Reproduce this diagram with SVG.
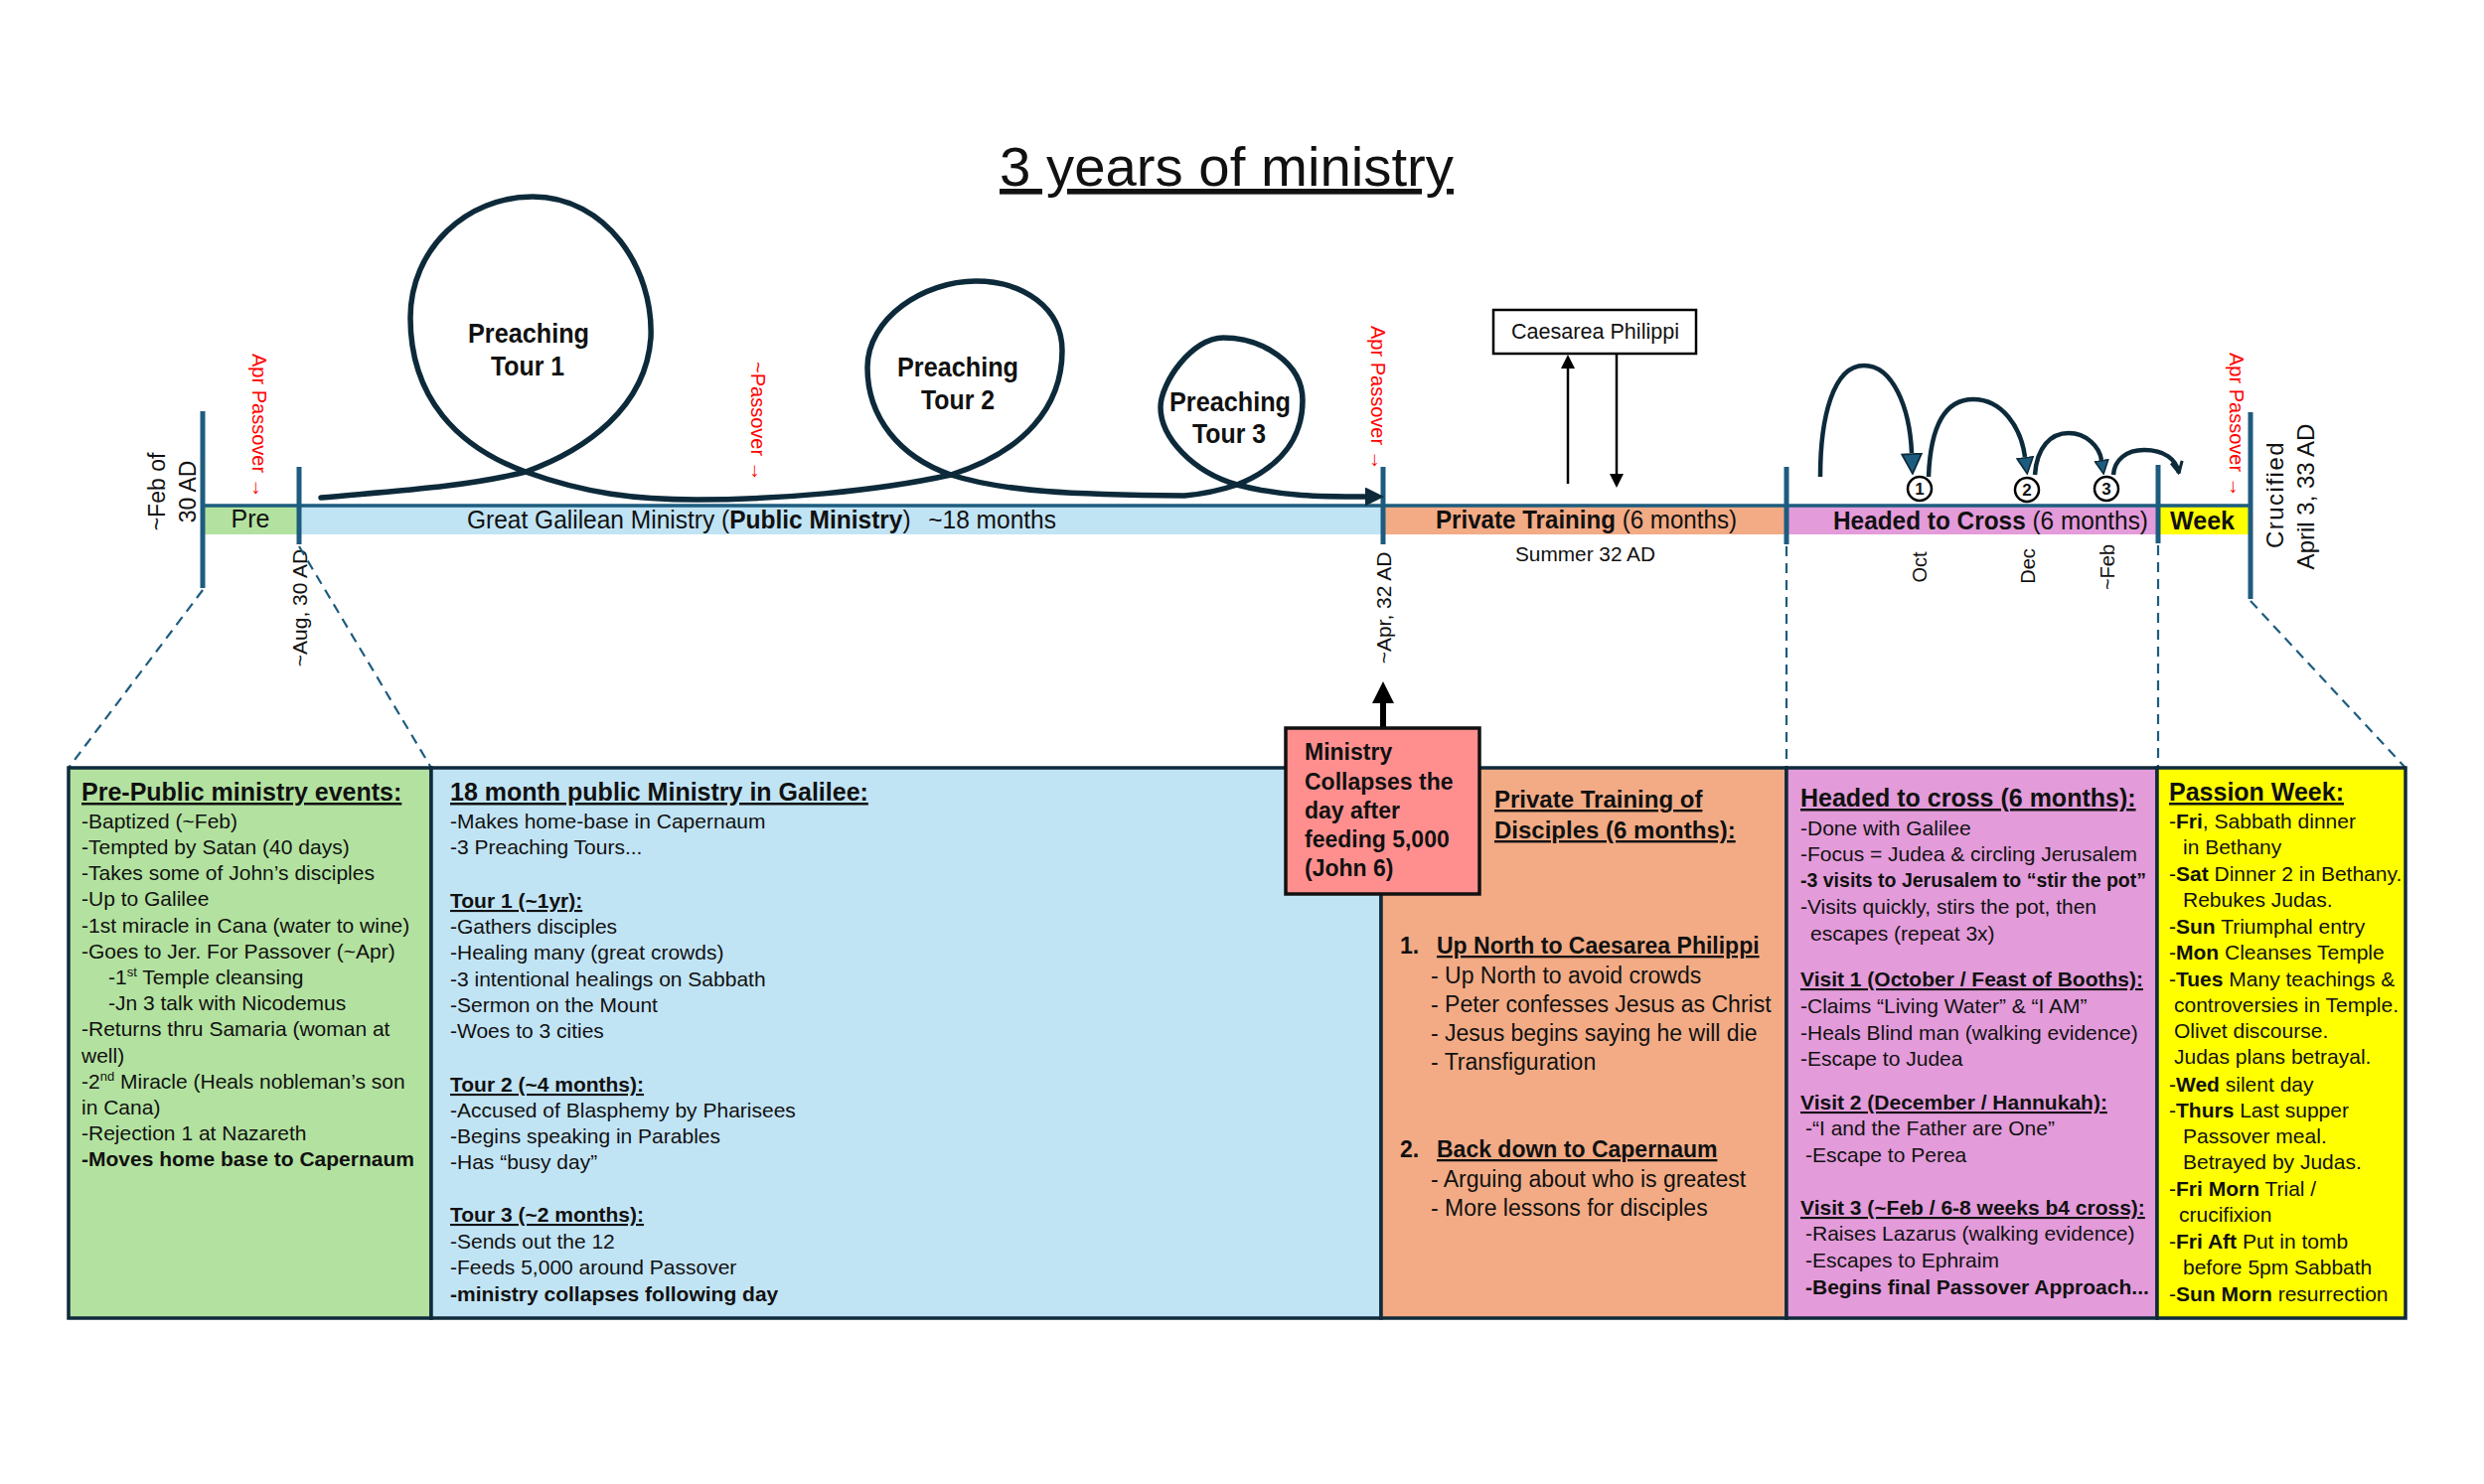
<svg xmlns="http://www.w3.org/2000/svg" width="2500" height="1494" viewBox="0 0 2500 1494">
<style>
text{font-family:"Liberation Sans",Arial,sans-serif;fill:#111}
.bd{font-size:21px}
.or{font-size:23px}
.b{font-weight:bold}
.hu{font-weight:bold;text-decoration:underline}
.hd{font-size:25px;font-weight:bold;text-decoration:underline}
.box{stroke:#0f2a3b;stroke-width:3.5}
.tl{stroke:#1d5c7e;stroke-width:5;fill:none}
.dash{stroke:#1d5c7e;stroke-width:2.2;stroke-dasharray:10 7;fill:none}
.red{fill:#ff0000;font-size:20px}
.rot{font-size:21px}
.loop{stroke:#0d2a3a;stroke-width:5.5;fill:none;stroke-linecap:round}
.arc{stroke:#0d2a3a;stroke-width:4.5;fill:none}
.lbl{font-size:25px}
.pt{font-size:28px;font-weight:bold;text-anchor:middle}
</style>
<defs>
<marker id="mBlk" viewBox="0 0 10 10" refX="0" refY="5" markerUnits="userSpaceOnUse" markerWidth="14" markerHeight="14" orient="auto"><path d="M0,0L10,5L0,10z" fill="#000"/></marker>
<marker id="mLoop" viewBox="0 0 10 10" refX="0" refY="5" markerUnits="userSpaceOnUse" markerWidth="19" markerHeight="19" orient="auto"><path d="M0,0L10,5L0,10z" fill="#0d2a3a"/></marker>
<marker id="mBig" viewBox="0 0 10 10" refX="0" refY="5" markerUnits="userSpaceOnUse" markerWidth="22" markerHeight="22" orient="auto"><path d="M0,0L10,5L0,10z" fill="#000"/></marker>
<marker id="mT1" viewBox="0 0 10 10" refX="0" refY="5" markerUnits="userSpaceOnUse" markerWidth="22" markerHeight="22" orient="auto"><path d="M0.5,0.5L9.5,5L0.5,9.5z" fill="#1d5c7e" stroke="#0d2a3a" stroke-width="0.8"/></marker>
<marker id="mT2" viewBox="0 0 10 10" refX="0" refY="5" markerUnits="userSpaceOnUse" markerWidth="18" markerHeight="18" orient="auto"><path d="M0.5,0.5L9.5,5L0.5,9.5z" fill="#1d5c7e" stroke="#0d2a3a" stroke-width="0.9"/></marker>
<marker id="mT3" viewBox="0 0 10 10" refX="0" refY="5" markerUnits="userSpaceOnUse" markerWidth="15" markerHeight="15" orient="auto"><path d="M0.5,0.5L9.5,5L0.5,9.5z" fill="#1d5c7e" stroke="#0d2a3a" stroke-width="1"/></marker>
<marker id="mOpen" viewBox="0 0 10 10" refX="9" refY="5" markerUnits="userSpaceOnUse" markerWidth="14" markerHeight="14" orient="auto"><path d="M1,1L9,5L1,9" fill="none" stroke="#0d2a3a" stroke-width="2.2"/></marker>
</defs>
<rect width="2500" height="1494" fill="#fff"/>

<g id="title">
<text x="1006" y="187" font-size="56" textLength="457" lengthAdjust="spacingAndGlyphs" text-decoration="underline">3 years of ministry</text>
</g>

<g id="timeline">
<rect x="204" y="508" width="97" height="30" fill="#b3e2a0"/>
<rect x="301" y="508" width="1091" height="30" fill="#c1e4f5"/>
<rect x="1392" y="508" width="406" height="30" fill="#f2ab85"/>
<rect x="1798" y="508" width="374" height="30" fill="#e39bda"/>
<rect x="2172" y="508" width="93" height="30" fill="#ffff00"/>
<line x1="204" y1="509" x2="2265" y2="509" stroke="#1d5c7e" stroke-width="3.5"/>
<line class="tl" x1="204" y1="414" x2="204" y2="592"/>
<line class="tl" x1="301" y1="470" x2="301" y2="548"/>
<line class="tl" x1="1392" y1="470" x2="1392" y2="548"/>
<line class="tl" x1="1798" y1="470" x2="1798" y2="548"/>
<line class="tl" x1="2172" y1="468" x2="2172" y2="547"/>
<line class="tl" x1="2265" y1="415" x2="2265" y2="603"/>
<text x="252" y="531" class="lbl" text-anchor="middle">Pre</text>
<text x="470" y="532" class="lbl" textLength="593" lengthAdjust="spacingAndGlyphs">Great Galilean Ministry (<tspan class="b">Public Ministry</tspan>)<tspan dx="18">~18 months</tspan></text>
<text x="1445" y="532" class="lbl" textLength="303" lengthAdjust="spacingAndGlyphs"><tspan class="b">Private Training</tspan> (6 months)</text>
<text x="1845" y="533" class="lbl" textLength="317" lengthAdjust="spacingAndGlyphs"><tspan class="b">Headed to Cross</tspan> (6 months)</text>
<text x="2184" y="533" class="lbl b" textLength="65" lengthAdjust="spacingAndGlyphs">Week</text>
<text x="1525" y="565" font-size="21" textLength="141" lengthAdjust="spacingAndGlyphs">Summer 32 AD</text>
<text transform="translate(166,495) rotate(-90)" font-size="23" text-anchor="middle">~Feb of</text>
<text transform="translate(197,495) rotate(-90)" font-size="23" text-anchor="middle">30 AD</text>
<text transform="translate(309,612) rotate(-90)" class="rot" text-anchor="middle">~Aug, 30 AD</text>
<text transform="translate(1400,612) rotate(-90)" class="rot" text-anchor="middle">~Apr, 32 AD</text>
<text transform="translate(1939,571) rotate(-90)" font-size="20" text-anchor="middle">Oct</text>
<text transform="translate(2048,570) rotate(-90)" font-size="20" text-anchor="middle">Dec</text>
<text transform="translate(2128,571) rotate(-90)" font-size="20" text-anchor="middle">~Feb</text>
<text transform="translate(2298,498) rotate(-90)" font-size="24" text-anchor="middle" letter-spacing="1.5">Crucified</text>
<text transform="translate(2329,500) rotate(-90)" font-size="24" text-anchor="middle">April 3, 33 AD</text>
<text transform="translate(254,356) rotate(90)" class="red">Apr Passover →</text>
<text transform="translate(756,364) rotate(90)" class="red">~Passover →</text>
<text transform="translate(1380,328) rotate(90)" class="red">Apr Passover →</text>
<text transform="translate(2244,355) rotate(90)" class="red">Apr Passover →</text>
</g>

<g id="preaching-tours">
<text x="532" y="345" class="pt" textLength="122" lengthAdjust="spacingAndGlyphs">Preaching</text>
<text x="531" y="378" class="pt" textLength="74" lengthAdjust="spacingAndGlyphs">Tour 1</text>
<text x="964" y="379" class="pt" textLength="122" lengthAdjust="spacingAndGlyphs">Preaching</text>
<text x="964" y="412" class="pt" textLength="74" lengthAdjust="spacingAndGlyphs">Tour 2</text>
<text x="1238" y="414" class="pt" textLength="122" lengthAdjust="spacingAndGlyphs">Preaching</text>
<text x="1237" y="446" class="pt" textLength="74" lengthAdjust="spacingAndGlyphs">Tour 3</text>
</g>

<g id="caesarea-philippi">
<rect x="1503" y="312" width="204" height="44" fill="#fff" stroke="#000" stroke-width="2.5"/>
<text x="1521" y="341" font-size="22" textLength="169" lengthAdjust="spacingAndGlyphs">Caesarea Philippi</text>
</g>

<g id="visit-markers">
<circle cx="1932" cy="492" r="12" fill="#fff" stroke="#000" stroke-width="2.5"/>
<text x="1932" y="498" font-size="17" class="b" text-anchor="middle">1</text>
<circle cx="2040" cy="493" r="12" fill="#fff" stroke="#000" stroke-width="2.5"/>
<text x="2040" y="499" font-size="17" class="b" text-anchor="middle">2</text>
<circle cx="2120" cy="492" r="12" fill="#fff" stroke="#000" stroke-width="2.5"/>
<text x="2120" y="498" font-size="17" class="b" text-anchor="middle">3</text>
</g>

<g id="connectors">
<path class="loop" marker-end="url(#mLoop)" d="M323 501 C400 494,470 490,529 475 C590 453,650 410,655 340 C658 270,610 198,536 198 C470 198,413 250,413 320 C413 400,460 450,529 475 C590 497,640 503,701 503 C780 503,880 495,957 478 C1030 455,1069 410,1069 353 C1069 310,1030 283,982 283 C930 283,873 320,873 370 C873 420,905 460,957 478 C1010 495,1080 498,1192 499 C1215 497,1230 493,1245 488 C1290 470,1311 440,1311 403 C1311 365,1270 340,1231 340 C1200 340,1168 385,1168 410 C1168 440,1200 475,1245 488 C1290 500,1330 500,1374 500"/>
<line x1="1578" y1="487" x2="1578" y2="371" stroke="#000" stroke-width="2.5" marker-end="url(#mBlk)"/>
<line x1="1627" y1="357" x2="1627" y2="477" stroke="#000" stroke-width="2.5" marker-end="url(#mBlk)"/>
<path class="arc" marker-end="url(#mT1)" d="M1832 480 C1832 420,1845 368,1876 368 C1905 368,1922 410,1924 456"/>
<path class="arc" marker-end="url(#mT2)" d="M1941 480 C1943 425,1960 402,1986 402 C2015 402,2034 430,2038 460"/>
<path class="arc" marker-end="url(#mT3)" d="M2048 478 C2050 450,2064 436,2082 436 C2100 436,2113 450,2115 463"/>
<path class="arc" marker-end="url(#mOpen)" d="M2127 478 C2128 463,2140 453,2158 453 C2178 453,2190 462,2193 476"/>
<line x1="1392" y1="733" x2="1392" y2="708" stroke="#000" stroke-width="6" marker-end="url(#mBig)"/>
<line class="dash" x1="204" y1="594" x2="69" y2="773"/>
<line class="dash" x1="301" y1="550" x2="434" y2="773"/>
<line class="dash" x1="1798" y1="550" x2="1798" y2="773"/>
<line class="dash" x1="2172" y1="549" x2="2172" y2="773"/>
<line class="dash" x1="2265" y1="605" x2="2421" y2="773"/>
</g>

<g id="pre-public-box">
<rect class="box" x="69" y="773" width="365" height="554" fill="#b3e2a0"/>
<text x="82" y="806" class="hd">Pre-Public ministry events:</text>
<g class="bd">
<text x="82" y="834">-Baptized (~Feb)</text>
<text x="82" y="860">-Tempted by Satan (40 days)</text>
<text x="82" y="886">-Takes some of John’s disciples</text>
<text x="82" y="912">-Up to Galilee</text>
<text x="82" y="939">-1st miracle in Cana (water to wine)</text>
<text x="82" y="965">-Goes to Jer. For Passover (~Apr)</text>
<text x="109" y="991">-1<tspan font-size="13" dy="-8">st</tspan><tspan dy="8"> Temple cleansing</tspan></text>
<text x="109" y="1017">-Jn 3 talk with Nicodemus</text>
<text x="82" y="1043">-Returns thru Samaria (woman at</text>
<text x="82" y="1070">well)</text>
<text x="82" y="1096">-2<tspan font-size="13" dy="-8">nd</tspan><tspan dy="8"> Miracle (Heals nobleman’s son</tspan></text>
<text x="82" y="1122">in Cana)</text>
<text x="82" y="1148">-Rejection 1 at Nazareth</text>
<text x="82" y="1174" class="b">-Moves home base to Capernaum</text>
</g>
</g>

<g id="galilee-box">
<rect class="box" x="434" y="773" width="956" height="554" fill="#c1e4f5"/>
<text x="453" y="806" class="hd">18 month public Ministry in Galilee:</text>
<g class="bd">
<text x="453" y="834">-Makes home-base in Capernaum</text>
<text x="453" y="860">-3 Preaching Tours...</text>
<text x="453" y="914" class="hu">Tour 1 (~1yr):</text>
<text x="453" y="940">-Gathers disciples</text>
<text x="453" y="966">-Healing many (great crowds)</text>
<text x="453" y="993">-3 intentional healings on Sabbath</text>
<text x="453" y="1019">-Sermon on the Mount</text>
<text x="453" y="1045">-Woes to 3 cities</text>
<text x="453" y="1099" class="hu">Tour 2 (~4 months):</text>
<text x="453" y="1125">-Accused of Blasphemy by Pharisees</text>
<text x="453" y="1151">-Begins speaking in Parables</text>
<text x="453" y="1177">-Has “busy day”</text>
<text x="453" y="1230" class="hu">Tour 3 (~2 months):</text>
<text x="453" y="1257">-Sends out the 12</text>
<text x="453" y="1283">-Feeds 5,000 around Passover</text>
<text x="453" y="1310" class="b">-ministry collapses following day</text>
</g>
</g>

<g id="private-training-box">
<rect class="box" x="1390" y="773" width="408" height="554" fill="#f2ab85"/>
<text x="1504" y="813" class="hu" font-size="24">Private Training of</text>
<text x="1504" y="844" class="hu" font-size="24">Disciples (6 months):</text>
<g class="or">
<text x="1409" y="960" class="b">1.</text>
<text x="1446" y="960" class="hu">Up North to Caesarea Philippi</text>
<text x="1440" y="990">- Up North to avoid crowds</text>
<text x="1440" y="1019">- Peter confesses Jesus as Christ</text>
<text x="1440" y="1048">- Jesus begins saying he will die</text>
<text x="1440" y="1077">- Transfiguration</text>
<text x="1409" y="1165" class="b">2.</text>
<text x="1446" y="1165" class="hu">Back down to Capernaum</text>
<text x="1440" y="1195">- Arguing about who is greatest</text>
<text x="1440" y="1224">- More lessons for disciples</text>
</g>
</g>

<g id="collapse-box">
<rect x="1294" y="733" width="195" height="167" fill="#ff8f8f" stroke="#111" stroke-width="3.5"/>
<g font-size="23" class="b">
<text x="1313" y="765">Ministry</text>
<text x="1313" y="795">Collapses the</text>
<text x="1313" y="824">day after</text>
<text x="1313" y="853">feeding 5,000</text>
<text x="1313" y="882">(John 6)</text>
</g>
</g>

<g id="headed-to-cross-box">
<rect class="box" x="1798" y="773" width="373" height="554" fill="#e39bda"/>
<text x="1812" y="812" class="hd">Headed to cross (6 months):</text>
<g class="bd">
<text x="1812" y="841">-Done with Galilee</text>
<text x="1812" y="867">-Focus = Judea &amp; circling Jerusalem</text>
<text x="1812" y="893" class="b" textLength="348" lengthAdjust="spacingAndGlyphs">-3 visits to Jerusalem to “stir the pot”</text>
<text x="1812" y="920">-Visits quickly, stirs the pot, then</text>
<text x="1822" y="947">escapes (repeat 3x)</text>
<text x="1812" y="993" class="hu">Visit 1 (October / Feast of Booths):</text>
<text x="1812" y="1020">-Claims “Living Water” &amp; “I AM”</text>
<text x="1812" y="1047">-Heals Blind man (walking evidence)</text>
<text x="1812" y="1073">-Escape to Judea</text>
<text x="1812" y="1117" class="hu">Visit 2 (December / Hannukah):</text>
<text x="1817" y="1143">-“I and the Father are One”</text>
<text x="1817" y="1170">-Escape to Perea</text>
<text x="1812" y="1223" class="hu">Visit 3 (~Feb / 6-8 weeks b4 cross):</text>
<text x="1817" y="1249">-Raises Lazarus (walking evidence)</text>
<text x="1817" y="1276">-Escapes to Ephraim</text>
<text x="1817" y="1303" class="b">-Begins final Passover Approach...</text>
</g>
</g>

<g id="passion-week-box">
<rect class="box" x="2171" y="773" width="250" height="554" fill="#ffff00"/>
<text x="2183" y="806" class="hd">Passion Week:</text>
<g class="bd">
<text x="2183" y="834">-<tspan class="b">Fri</tspan>, Sabbath dinner</text>
<text x="2197" y="860">in Bethany</text>
<text x="2183" y="887">-<tspan class="b">Sat</tspan> Dinner 2 in Bethany.</text>
<text x="2197" y="913">Rebukes Judas.</text>
<text x="2183" y="940">-<tspan class="b">Sun</tspan> Triumphal entry</text>
<text x="2183" y="966">-<tspan class="b">Mon</tspan> Cleanses Temple</text>
<text x="2183" y="993">-<tspan class="b">Tues</tspan> Many teachings &amp;</text>
<text x="2188" y="1019">controversies in Temple.</text>
<text x="2188" y="1045">Olivet discourse.</text>
<text x="2188" y="1071">Judas plans betrayal.</text>
<text x="2183" y="1099">-<tspan class="b">Wed</tspan> silent day</text>
<text x="2183" y="1125">-<tspan class="b">Thurs</tspan> Last supper</text>
<text x="2197" y="1151">Passover meal.</text>
<text x="2197" y="1177">Betrayed by Judas.</text>
<text x="2183" y="1204">-<tspan class="b">Fri Morn</tspan> Trial /</text>
<text x="2193" y="1230">crucifixion</text>
<text x="2183" y="1257">-<tspan class="b">Fri Aft</tspan> Put in tomb</text>
<text x="2197" y="1283">before 5pm Sabbath</text>
<text x="2183" y="1310">-<tspan class="b">Sun Morn</tspan> resurrection</text>
</g>
</g>
</svg>
